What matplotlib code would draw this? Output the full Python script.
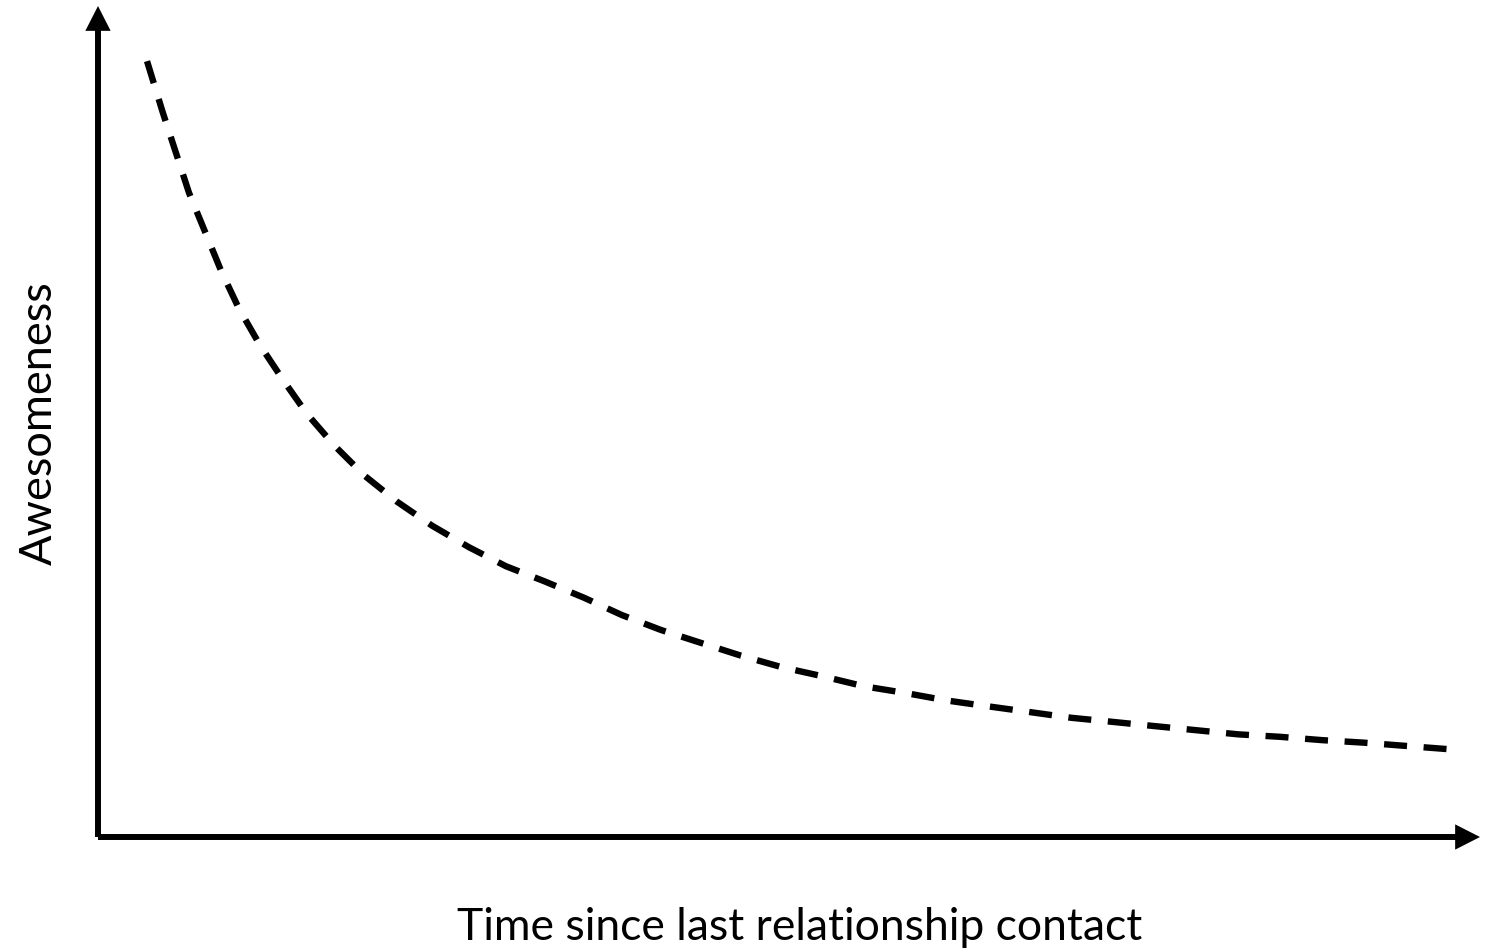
import matplotlib
matplotlib.use("Agg")
import matplotlib.pyplot as plt

# Data (arbitrary 0-100 units)
time_vals = [3.55, 4.71, 5.65, 6.59, 7.75, 8.91, 10.21, 11.73, 13.40, 15.13, 17.16,
             19.33, 21.65, 24.19, 26.86, 29.54, 32.30, 35.19, 37.94, 40.77, 43.74,
             46.56, 49.53, 52.50, 55.47, 58.44, 61.40, 64.37, 67.42, 70.46, 73.50,
             76.47, 79.51, 82.55, 85.59, 88.63, 91.60, 94.71, 98.62]
awesome_vals = [93.7, 87.4, 82.6, 77.8, 73.1, 68.4, 63.8, 59.4, 55.2, 51.1, 47.2,
                43.6, 40.5, 37.6, 35.0, 32.7, 30.9, 28.9, 26.8, 25.0, 23.4,
                21.9, 20.5, 19.4, 18.2, 17.4, 16.5, 15.8, 15.1, 14.4, 13.9,
                13.4, 12.9, 12.4, 12.1, 11.7, 11.4, 11.0, 10.5]
x_label = "Time since last relationship contact"
y_label = "Awesomeness"

W, H = 1493, 953
fig = plt.figure(figsize=(W / 100, H / 100), dpi=100)
fig.patch.set_facecolor("white")

# axes: origin at (98, 838) px, x-arrow tip at 1480 px, y-arrow tip at 7 px
left, right, bottom, top = 98, 1480, 838, 7
ax = fig.add_axes([left / W, (H - bottom) / H, (right - left) / W, (bottom - top) / H])
ax.set_xlim(0, (right - left) / 13.81)
ax.set_ylim(0, (bottom - top) / 8.28)
ax.axis("off")

ax.plot(time_vals, awesome_vals, color="black", lw=4.6,
        linestyle=(0, (3.6, 2.6)), dash_capstyle="butt", solid_capstyle="butt",
        solid_joinstyle="round", dash_joinstyle="round")

arrow_kw = dict(arrowstyle="-|>,head_length=0.55,head_width=0.28", lw=4.3, color="black",
                mutation_scale=20, shrinkA=0, shrinkB=0, joinstyle="miter", capstyle="butt")
ax.annotate("", xy=(1, 0), xytext=(0, 0), xycoords="axes fraction",
            textcoords="axes fraction", arrowprops=arrow_kw, annotation_clip=False)
ax.annotate("", xy=(0, 1), xytext=(0, 0), xycoords="axes fraction",
            textcoords="axes fraction", arrowprops=arrow_kw, annotation_clip=False)

font = ["Lato", "DejaVu Sans"]
fig.text(800 / W, 1 - 928 / H, x_label, ha="center", va="center",
         fontsize=32, family=font)
fig.text(39 / W, 1 - 423 / H, y_label, ha="center", va="center",
         rotation=90, fontsize=32.5, family=font)

fig.savefig("out.png", dpi=100, facecolor="white")
